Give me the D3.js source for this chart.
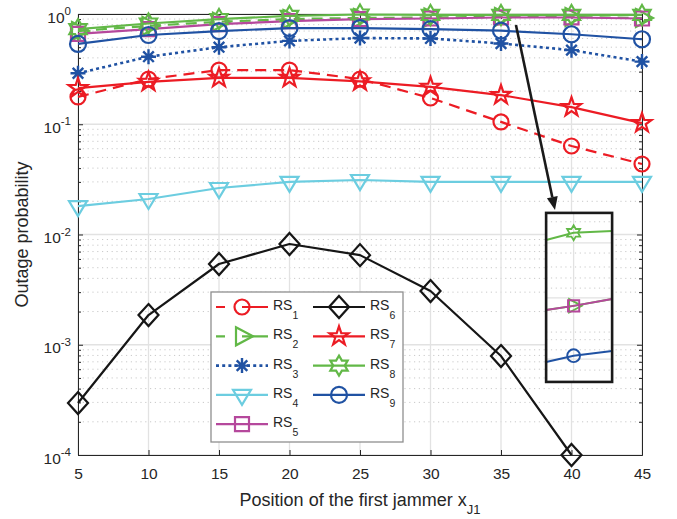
<!DOCTYPE html>
<html>
<head>
<meta charset="utf-8">
<script src="https://cdn.jsdelivr.net/npm/d3@7/dist/d3.min.js"></script>
<style>
  body { margin: 0; background: #fff; }
  svg { display: block; }
  text { font-family: "Liberation Sans", Arial, Helvetica, sans-serif; fill: #262626; }
</style>
</head>
<body>
<svg id="chart" width="677" height="519"></svg>
<script>
// ---- data -------------------------------------------------------------
const positions = [5, 10, 15, 20, 25, 30, 35, 40, 45];          // x_J1
const rs1 = [0.177, 0.257, 0.31, 0.31, 0.257, 0.173, 0.105, 0.0635, 0.0436];
const rs2 = [0.70, 0.78, 0.85, 0.90, 0.92, 0.93, 0.94, 0.94, 0.92];
const rs3 = [0.29, 0.41, 0.50, 0.57, 0.605, 0.60, 0.54, 0.47, 0.37];
const rs4 = [0.0181, 0.021, 0.0264, 0.030, 0.0312, 0.030, 0.030, 0.030, 0.030];
const rs5 = [0.66, 0.73, 0.81, 0.86, 0.90, 0.91, 0.93, 0.93, 0.91];
const rs6 = [2.96e-4, 1.86e-3, 5.4e-3, 8.2e-3, 6.5e-3, 3.07e-3, 7.9e-4, 1.0e-4, null];
const rs7 = [0.213, 0.242, 0.263, 0.263, 0.245, 0.218, 0.184, 0.143, 0.1025];
const rs8 = [0.73, 0.82, 0.90, 0.96, 0.99, 0.98, 0.98, 0.98, 0.98];
const rs9 = [0.535, 0.645, 0.70, 0.746, 0.746, 0.73, 0.706, 0.655, 0.59];

const xTicks = [5, 10, 15, 20, 25, 30, 35, 40, 45];
const yTickExponents = [0, -1, -2, -3, -4];

// zoomed-in detail around x_J1 = 35 (inset)
const insetX = [34, 35, 36.4];
const insetRS8 = [0.936, 0.953, 0.957];
const insetRS5 = [0.770, 0.780, 0.796];
const insetRS2 = [0.770, 0.780, 0.796];
const insetRS9 = [0.647, 0.662, 0.673];
const insetMajorGrid = [0.929, 0.799, 0.654];
const insetMinorGrid = [0.979, 0.905, 0.872, 0.846, 0.822, 0.766, 0.718, 0.70, 0.676, 0.628];

// ---- styles -----------------------------------------------------------
const RED = "#ec1c24", GREEN = "#62b847", BLUE = "#2052a3",
      CYAN = "#6ccde0", MAGENTA = "#b5489c", BLACK = "#161616";
const DASHED = "11,7", DOTTED = "3,3.2";

const series = [
  { id: "1", values: rs1, color: RED,     dash: DASHED, marker: "circle" },
  { id: "2", values: rs2, color: GREEN,   dash: DASHED, marker: "triRight" },
  { id: "3", values: rs3, color: BLUE,    dash: DOTTED, marker: "asterisk" },
  { id: "4", values: rs4, color: CYAN,    dash: null,   marker: "triDown" },
  { id: "5", values: rs5, color: MAGENTA, dash: null,   marker: "square" },
  { id: "6", values: rs6, color: BLACK,   dash: null,   marker: "diamond" },
  { id: "7", values: rs7, color: RED,     dash: null,   marker: "pentagram" },
  { id: "8", values: rs8, color: GREEN,   dash: null,   marker: "hexagram" },
  { id: "9", values: rs9, color: BLUE,    dash: null,   marker: "circle9" }
];

function starPath(n, outer, inner) {
  const pts = [];
  for (let i = 0; i < n * 2; i++) {
    const r = i % 2 === 0 ? outer : inner;
    const a = -Math.PI / 2 + i * Math.PI / n;
    pts.push([r * Math.cos(a), r * Math.sin(a)]);
  }
  return "M" + pts.map(p => p[0].toFixed(2) + "," + p[1].toFixed(2)).join("L") + "Z";
}
function circlePath(r) {
  return `M${r},0A${r},${r} 0 1,1 ${-r},0A${r},${r} 0 1,1 ${r},0Z`;
}
const markerPaths = {
  circle: circlePath(7.5),
  circle9: circlePath(8),
  triRight: "M-6,-9L11,0L-6,9Z",
  triDown: "M-9,-5L9,-5L0,10Z",
  square: "M-7,-7H7V7H-7Z",
  diamond: "M0,-11L10,0L0,11L-10,0Z",
  asterisk: "M-7.5,0H7.5M0,-7.5V7.5M-5.3,-5.3L5.3,5.3M-5.3,5.3L5.3,-5.3",
  pentagram: starPath(5, 10, 3.9),
  hexagram: starPath(6, 10, 5.8)
};

// ---- scales -----------------------------------------------------------
const svg = d3.select("#chart");
const x = d3.scaleLinear().domain([5, 45]).range([78, 642]);
const y = d3.scaleLog().domain([1e-4, 1]).range([455, 14]);
const [x0, x1] = x.range();
const [yB, yT] = y.range();

svg.append("rect").attr("width", 677).attr("height", 519).attr("fill", "#fff");

// ---- grid -------------------------------------------------------------
const decades = yTickExponents.map(e => Math.pow(10, e));
const minors = [];
yTickExponents.slice(1).forEach(e => {
  for (let k = 2; k <= 9; k++) minors.push(k * Math.pow(10, e));
});

const grid = svg.append("g");
grid.selectAll(".minor").data(minors).join("line")
  .attr("x1", x0).attr("x2", x1)
  .attr("y1", d => y(d)).attr("y2", d => y(d))
  .attr("stroke", "#c9c9c9").attr("stroke-width", 1)
  .attr("stroke-dasharray", "1.2,3.6");
grid.selectAll(".vmaj").data(xTicks).join("line")
  .attr("x1", d => x(d)).attr("x2", d => x(d))
  .attr("y1", yT).attr("y2", yB)
  .attr("stroke", "#e2e2e2").attr("stroke-width", 1.3);
grid.selectAll(".hmaj").data(decades).join("line")
  .attr("x1", x0).attr("x2", x1)
  .attr("y1", d => y(d)).attr("y2", d => y(d))
  .attr("stroke", "#e2e2e2").attr("stroke-width", 1.3);

// ---- axes -------------------------------------------------------------
const AX = "#262626";
function styleAxis(g) {
  g.selectAll("path.domain").attr("stroke", AX).attr("stroke-width", 1);
  g.selectAll(".tick line").attr("stroke", AX).attr("stroke-width", 1);
}
const gx = svg.append("g").attr("transform", `translate(0,${yB})`)
  .call(d3.axisBottom(x).tickValues(xTicks).tickSize(-5).tickSizeOuter(0).tickPadding(13));
gx.selectAll("text").attr("font-size", 15.5).attr("fill", AX)
  .attr("font-family", "Liberation Sans, Arial, sans-serif");
styleAxis(gx);
const gxt = svg.append("g").attr("transform", `translate(0,${yT})`)
  .call(d3.axisTop(x).tickValues(xTicks).tickSize(-5).tickSizeOuter(0).tickFormat(""));
styleAxis(gxt);

const gy = svg.append("g").attr("transform", `translate(${x0},0)`)
  .call(d3.axisLeft(y).tickValues(decades).tickSize(-5).tickSizeOuter(0).tickFormat(""));
styleAxis(gy);
const gym = svg.append("g").attr("transform", `translate(${x0},0)`)
  .call(d3.axisLeft(y).tickValues(minors).tickSize(-3).tickSizeOuter(0).tickFormat(""));
styleAxis(gym);
const gyr = svg.append("g").attr("transform", `translate(${x1},0)`)
  .call(d3.axisRight(y).tickValues(decades).tickSize(-5).tickSizeOuter(0).tickFormat(""));
styleAxis(gyr);
const gyrm = svg.append("g").attr("transform", `translate(${x1},0)`)
  .call(d3.axisRight(y).tickValues(minors).tickSize(-3).tickSizeOuter(0).tickFormat(""));
styleAxis(gyrm);

// y tick labels: 10^e
const yLab = svg.append("g");
yTickExponents.forEach(e => {
  const t = yLab.append("text")
    .attr("x", x0 - 7).attr("y", y(Math.pow(10, e)) + 8.5)
    .attr("text-anchor", "end").attr("font-size", 15.5).attr("fill", AX);
  t.append("tspan").text("10");
  t.append("tspan").attr("dy", -7.5).attr("font-size", 11.5).text(String(e).replace("-", "-"));
});

// axis titles
const xt = svg.append("text")
  .attr("x", (x0 + x1) / 2).attr("y", 506)
  .attr("text-anchor", "middle").attr("font-size", 18).attr("fill", AX);
xt.append("tspan").text("Position of the first jammer x");
xt.append("tspan").attr("dy", 8).attr("font-size", 13).text("J1");

svg.append("text")
  .attr("transform", `translate(28,${(yT + yB) / 2}) rotate(-90)`)
  .attr("text-anchor", "middle").attr("font-size", 18).attr("fill", AX)
  .text("Outage probability");

// ---- series -----------------------------------------------------------
const plot = svg.append("g");
const line = d3.line().defined(d => d[1] != null)
  .x(d => x(d[0])).y(d => y(d[1]));

series.forEach(s => {
  const pts = positions.map((p, i) => [p, s.values[i]]);
  const g = plot.append("g");
  g.append("path").attr("d", line(pts))
    .attr("fill", "none").attr("stroke", s.color)
    .attr("stroke-width", s.dash === DOTTED ? 2.6 : 2.2)
    .attr("stroke-dasharray", s.dash)
    .attr("stroke-linejoin", "round");
  g.selectAll("path.m").data(pts.filter(d => d[1] != null)).join("path")
    .attr("class", "m")
    .attr("d", markerPaths[s.marker])
    .attr("transform", d => `translate(${x(d[0])},${y(d[1])})`)
    .attr("fill", "none").attr("stroke", s.color)
    .attr("stroke-width", s.marker === "asterisk" ? 2.4 : 2.2)
    .attr("stroke-linejoin", "miter");
});

// ---- legend -----------------------------------------------------------
const legend = svg.append("g");
legend.append("rect")
  .attr("x", 211).attr("y", 292).attr("width", 192).attr("height", 150)
  .attr("fill", "#fff").attr("stroke", "#8f8f8f").attr("stroke-width", 1.3);
series.forEach((s, i) => {
  const col = i < 5 ? 0 : 1;
  const row = i < 5 ? i : i - 5;
  const lx = col === 0 ? 216 : 313;
  const ly = 307 + row * 29.3;
  const g = legend.append("g");
  g.append("line").attr("x1", lx).attr("x2", lx + 52).attr("y1", ly).attr("y2", ly)
    .attr("stroke", s.color).attr("stroke-width", s.dash === DOTTED ? 2.6 : 2.2)
    .attr("stroke-dasharray", s.dash === DASHED ? "9,17,26" : s.dash);
  g.append("path").attr("d", markerPaths[s.marker])
    .attr("transform", `translate(${lx + 26},${ly})`)
    .attr("fill", "none").attr("stroke", s.color)
    .attr("stroke-width", s.marker === "asterisk" ? 2.4 : 2.2);
  const t = g.append("text").attr("x", lx + 57).attr("y", ly + 3)
    .attr("font-size", 14).attr("fill", AX);
  t.append("tspan").text("RS");
  t.append("tspan").attr("dy", 9).attr("font-size", 10.5).text(s.id);
});

// ---- inset with arrow ---------------------------------------------------
const insetBox = { xLo: 38.2, xHi: 42.88, yHi: 0.0157, yLo: 4.6e-4 };
const arrowFrom = [36.06, 0.795], arrowTo = [38.83, 0.0167];

const bx0 = x(insetBox.xLo), bx1 = x(insetBox.xHi);
const by0 = y(insetBox.yHi), by1 = y(insetBox.yLo);
const ix = d3.scaleLinear().domain([34, 36.4]).range([bx0, bx1]);
const iy = d3.scaleLinear().domain([0.6, 1.0]).range([by1, by0]);

const inset = svg.append("g");
inset.append("rect").attr("x", bx0).attr("y", by0)
  .attr("width", bx1 - bx0).attr("height", by1 - by0).attr("fill", "#fff");
inset.selectAll(".imin").data(insetMinorGrid).join("line")
  .attr("x1", bx0).attr("x2", bx1).attr("y1", d => iy(d)).attr("y2", d => iy(d))
  .attr("stroke", "#c9c9c9").attr("stroke-dasharray", "1.2,3.6");
inset.selectAll(".imaj").data(insetMajorGrid).join("line")
  .attr("x1", bx0).attr("x2", bx1).attr("y1", d => iy(d)).attr("y2", d => iy(d))
  .attr("stroke", "#e2e2e2").attr("stroke-width", 1.3);
inset.append("line").attr("x1", ix(35)).attr("x2", ix(35)).attr("y1", by0).attr("y2", by1)
  .attr("stroke", "#e2e2e2").attr("stroke-width", 1.3);

const insetSeries = [
  { values: insetRS2, color: GREEN,   marker: "triRight", scale: 0.75 },
  { values: insetRS5, color: MAGENTA, marker: "square",   scale: 0.8 },
  { values: insetRS8, color: GREEN,   marker: "hexagram", scale: 0.75 },
  { values: insetRS9, color: BLUE,    marker: "circle9",  scale: 0.8 }
];
const iline = d3.line().x(d => ix(d[0])).y(d => iy(d[1]));
insetSeries.forEach(s => {
  const pts = insetX.map((p, i) => [p, s.values[i]]);
  inset.append("path").attr("d", iline(pts)).attr("fill", "none")
    .attr("stroke", s.color).attr("stroke-width", 2);
  inset.append("path").attr("d", markerPaths[s.marker])
    .attr("transform", `translate(${ix(35)},${iy(pts[1][1])}) scale(${s.scale})`)
    .attr("fill", "none").attr("stroke", s.color).attr("stroke-width", 2.4);
});
inset.append("rect").attr("x", bx0).attr("y", by0)
  .attr("width", bx1 - bx0).attr("height", by1 - by0)
  .attr("fill", "none").attr("stroke", "#1a1a1a").attr("stroke-width", 2.6);

// arrow
const ax1 = x(arrowFrom[0]), ay1 = y(arrowFrom[1]);
const ax2 = x(arrowTo[0]), ay2 = y(arrowTo[1]);
const ang = Math.atan2(ay2 - ay1, ax2 - ax1);
const headLen = 13, headW = 5.5;
const bxh = ax2 - headLen * Math.cos(ang), byh = ay2 - headLen * Math.sin(ang);
svg.append("line").attr("x1", ax1).attr("y1", ay1).attr("x2", bxh).attr("y2", byh)
  .attr("stroke", "#1a1a1a").attr("stroke-width", 2.6);
svg.append("path")
  .attr("d", `M${ax2},${ay2}L${bxh - headW * Math.sin(ang)},${byh + headW * Math.cos(ang)}L${bxh + headW * Math.sin(ang)},${byh - headW * Math.cos(ang)}Z`)
  .attr("fill", "#1a1a1a");
</script>
</body>
</html>
